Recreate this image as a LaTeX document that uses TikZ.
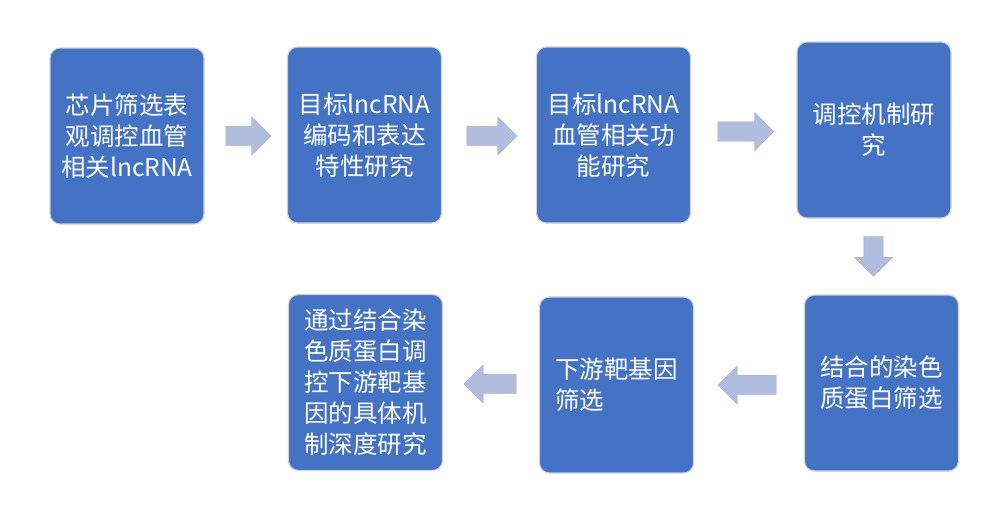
\documentclass[tikz,border=0pt]{standalone}
\usepackage{fontspec}
\newfontfamily\cjk{Noto Sans CJK SC}
\usetikzlibrary{shapes.arrows}
\definecolor{boxblue}{RGB}{68,114,196}
\definecolor{arrowfill}{RGB}{176,189,222}
\definecolor{arrowedge}{RGB}{160,168,190}
\tikzset{
  stepbox/.style={draw=black!18, line width=1.1pt, fill=boxblue, rounded corners=10pt,
    minimum width=154pt, minimum height=176pt, inner sep=0pt, text=white,
    font=\cjk\fontsize{24.5}{31}\selectfont, align=center},
  blockarrow/.style={single arrow, fill=arrowfill, draw=arrowedge, line width=0.3pt,
    inner xsep=0pt, inner ysep=9.5pt, single arrow head extend=9.5pt,
    single arrow head indent=0pt, anchor=center}
}
\begin{document}
\begin{tikzpicture}[x=1pt,y=-1pt]
\useasboundingbox (0,0) rectangle (1005,517);
\node[stepbox] (b1) at (127,136) {芯片筛选表\\观调控血管\\相关lncRNA};
\node[stepbox] (b2) at (364.5,135) {目标lncRNA\\编码和表达\\特性研究};
\node[stepbox] (b3) at (613.5,135) {目标lncRNA\\血管相关功\\能研究};
\node[stepbox] (b4) at (874,130) {调控机制研\\究};
\node[stepbox] (b5) at (881.5,383) {结合的染色\\质蛋白筛选};
\node[stepbox, align=left] (b6) at (616.5,385) {下游靶基因\\筛选};
\node[stepbox] (b7) at (365.5,382.5) {通过结合染\\色质蛋白调\\控下游靶基\\因的具体机\\制深度研究};
\node[blockarrow, minimum height=45pt] (a1) at (243.5,136) {};
\node[blockarrow, minimum height=50pt] (a2) at (487,136) {};
\node[blockarrow, minimum height=56pt] (a3) at (741,131.5) {};
\node[blockarrow, minimum height=40pt, rotate=-90] (a4) at (873.5,251.5) {};
\node[blockarrow, minimum height=58pt, rotate=180] (a6) at (752,385) {};
\node[blockarrow, minimum height=52pt, rotate=180] (a5) at (495,384) {};
\end{tikzpicture}
\end{document}
